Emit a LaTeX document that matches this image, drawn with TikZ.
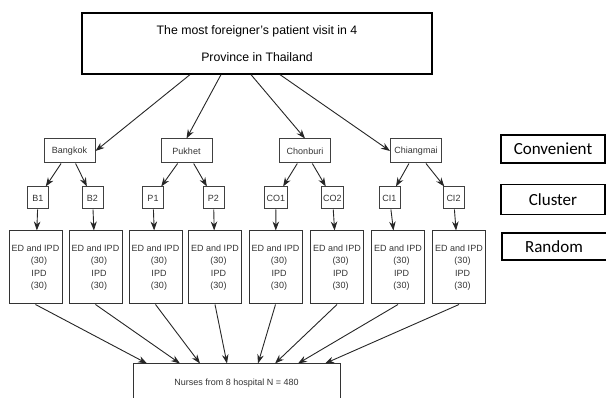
\documentclass[tikz,border=0pt]{standalone}
\usepackage{fontspec}
\setmainfont{Liberation Sans}
\newfontfamily\legendfont{Carlito}
\usepackage{tikz}
\usetikzlibrary{shapes,arrows,arrows.meta,positioning,calc}
\tikzstyle{heading} = [rectangle, minimum width=350pt, minimum height=61pt, inner sep=0pt, align=center, draw=black, line width=1.3pt, font=\fontsize{12.3}{27}\selectfont]
\tikzstyle{province} = [rectangle, minimum width=51pt, minimum height=24pt, inner sep=3pt, text centered, draw=black!75, line width=1pt, text=black!80, font=\fontsize{9}{11}\selectfont]
\tikzstyle{hospital} = [rectangle, minimum width=21pt, minimum height=22pt, inner sep=2pt, text centered, draw=black!75, line width=1pt, text=black!80, font=\fontsize{9}{11}\selectfont]
\tikzstyle{ward} = [rectangle, minimum width=53pt, minimum height=73pt, inner sep=0pt, align=center, draw=black!80, line width=1pt, text=black!80, font=\fontsize{9}{12.5}\selectfont]
\tikzstyle{legend} = [rectangle, minimum width=104pt, minimum height=28pt, inner sep=0pt, text centered, draw=black, line width=1.1pt, font=\legendfont\fontsize{17}{20}\selectfont]
\tikzstyle{total} = [rectangle, minimum width=207pt, minimum height=38pt, inner sep=0pt, text centered, draw=black!80, line width=1pt, text=black!80, font=\fontsize{9}{11}\selectfont]
\tikzstyle{arrow} = [->, line width=0.9pt, draw=black!85]

\begin{document}
\begin{tikzpicture}[x=1pt, y=-1pt, >={Stealth[length=9pt,width=6.5pt]}]
        \useasboundingbox (0,0) rectangle (606,398);

        % Blocks
        \node (top) [heading] at (257,43.5) {The most foreigner’s patient visit in 4\\Province in Thailand};

        \node (bkk) [province] at (69.5,151) {Bangkok};
        \node (pkt) [province] at (186.5,151) {Pukhet};
        \node (chb) [province] at (305,151) {Chonburi};
        \node (chm) [province] at (416,151) {Chiangmai};

        \node (b1) [hospital] at (38,198) {B1};
        \node (b2) [hospital] at (92.5,198) {B2};
        \node (p1) [hospital] at (153,198) {P1};
        \node (p2) [hospital] at (213.5,198) {P2};
        \node (co1) [hospital] at (276,198) {CO1};
        \node (co2) [hospital] at (332.5,198) {CO2};
        \node (ci1) [hospital] at (389.5,198) {CI1};
        \node (ci2) [hospital] at (453.5,198) {CI2};

        \node (edb1) [ward] at (35.5,267.5) {ED and IPD\\\hspace*{7pt}(30)\\\hspace*{7pt}IPD\\\hspace*{7pt}(30)};
        \node (edb2) [ward] at (95.5,267.5) {ED and IPD\\\hspace*{7pt}(30)\\\hspace*{7pt}IPD\\\hspace*{7pt}(30)};
        \node (edp1) [ward] at (155.5,267.5) {ED and IPD\\\hspace*{7pt}(30)\\\hspace*{7pt}IPD\\\hspace*{7pt}(30)};
        \node (edp2) [ward] at (215,267.5) {ED and IPD\\\hspace*{7pt}(30)\\\hspace*{7pt}IPD\\\hspace*{7pt}(30)};
        \node (edco1) [ward] at (275.5,267.5) {ED and IPD\\\hspace*{7pt}(30)\\\hspace*{7pt}IPD\\\hspace*{7pt}(30)};
        \node (edco2) [ward] at (337,267.5) {ED and IPD\\\hspace*{7pt}(30)\\\hspace*{7pt}IPD\\\hspace*{7pt}(30)};
        \node (edci1) [ward] at (398,267.5) {ED and IPD\\\hspace*{7pt}(30)\\\hspace*{7pt}IPD\\\hspace*{7pt}(30)};
        \node (edci2) [ward] at (459,267.5) {ED and IPD\\\hspace*{7pt}(30)\\\hspace*{7pt}IPD\\\hspace*{7pt}(30)};

        \node (nurses) [total] at (236.5,383) {Nurses from 8 hospital N = 480};

        % Lines
        \draw [arrow] ([xshift=-67pt]top.south) -- (bkk.east);
        \draw [arrow] ([xshift=-36pt]top.south) -- (pkt.north);
        \draw [arrow] ([xshift=-6pt]top.south) -- (chb.north);
        \draw [arrow] ([xshift=23pt]top.south) -- (chm.west);

        \draw [arrow] (bkk) -- (b1);
        \draw [arrow] (bkk) -- (b2);
        \draw [arrow] (pkt) -- (p1);
        \draw [arrow] (pkt) -- (p2);
        \draw [arrow] (chb) -- (co1);
        \draw [arrow] (chb) -- (co2);
        \draw [arrow] (chm) -- (ci1);
        \draw [arrow] (chm) -- (ci2);

        \draw [arrow] (b1) -- (edb1);
        \draw [arrow] (b2) -- (edb2);
        \draw [arrow] (p1) -- (edp1);
        \draw [arrow] (p2) -- (edp2);
        \draw [arrow] (co1) -- (edco1);
        \draw [arrow] (co2) -- (edco2);
        \draw [arrow] (ci1) -- (edci1);
        \draw [arrow] (ci2) -- (edci2);

        \draw [arrow] (edb1.south) -- ([xshift=-89.5pt]nurses.north);
        \draw [arrow] (edb2.south) -- ([xshift=-56.5pt]nurses.north);
        \draw [arrow] (edp1.south) -- ([xshift=-36.5pt]nurses.north);
        \draw [arrow] (edp2.south) -- ([xshift=-9.5pt]nurses.north);
        \draw [arrow] (edco1.south) -- ([xshift=21.5pt]nurses.north);
        \draw [arrow] (edco2.south) -- ([xshift=38.5pt]nurses.north);
        \draw [arrow] (edci1.south) -- ([xshift=61.5pt]nurses.north);
        \draw [arrow] (edci2.south) -- ([xshift=88.5pt]nurses.north);

        % Legend
        \node (conv) [legend] at (553,149) {Convenient};
        \node (clus) [legend, minimum height=30pt] at (553,199.5) {Cluster};
        \node (rand) [legend, minimum width=110pt, minimum height=27pt] at (557,246.5) {\hspace*{-6pt}Random};
    \end{tikzpicture}
\end{document}
